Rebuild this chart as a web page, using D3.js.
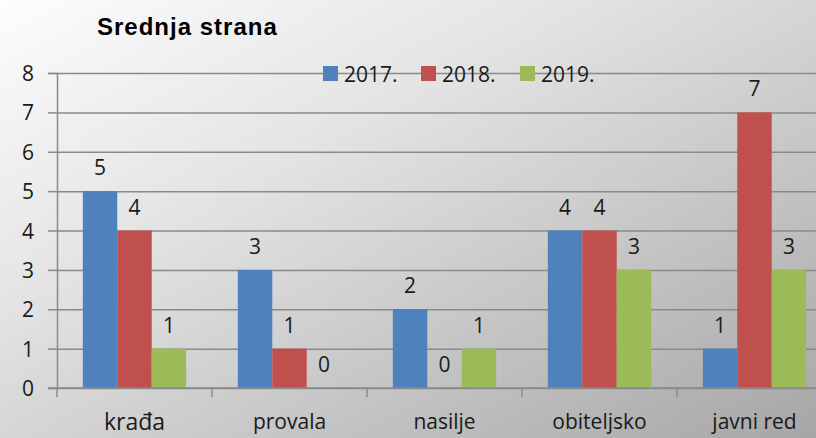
<!DOCTYPE html>
<html>
<head>
<meta charset="utf-8">
<script src="https://cdn.jsdelivr.net/npm/d3@7"></script>
<style>
  html, body { margin: 0; padding: 0; background: #fff; }
  svg { display: block; }
</style>
</head>
<body>
<svg id="chart" width="816" height="438"></svg>
<script>
// data
const categories = ["krađa", "provala", "nasilje", "obiteljsko", "javni red"];
const seriesNames = ["2017.", "2018.", "2019."];
const values2017 = [5, 3, 2, 4, 1];
const values2018 = [4, 1, 0, 4, 7];
const values2019 = [1, 0, 1, 3, 3];
const yTicks = [0, 1, 2, 3, 4, 5, 6, 7, 8];
const colors = ["#4f81bd", "#c0504d", "#9bbb59"];

const width = 816, height = 438;
const marginLeft = 57, marginTop = 73, plotBottom = 388;
const plotRight = 832; // chart is cropped on the right

const svg = d3.select("#chart");
const labelFont = "'Open Sans', 'Noto Sans', sans-serif";

// background gradient
const defs = svg.append("defs");
const grad = defs.append("linearGradient")
  .attr("id", "bg")
  .attr("x1", 0).attr("y1", 0).attr("x2", 1).attr("y2", 1);
grad.append("stop").attr("offset", "0%").attr("stop-color", "#fdfdfd");
grad.append("stop").attr("offset", "35%").attr("stop-color", "#e4e4e4");
grad.append("stop").attr("offset", "100%").attr("stop-color", "#a6a6a6");
svg.append("rect").attr("width", width).attr("height", height).attr("fill", "url(#bg)");

const series = [values2017, values2018, values2019];

const x0 = d3.scaleBand().domain(categories).range([marginLeft, plotRight]).paddingInner(0).paddingOuter(0);
const x1 = d3.scaleBand().domain(seriesNames).range([0, x0.bandwidth()]).paddingOuter(0.75).paddingInner(0);
const y = d3.scaleLinear().domain([0, 8]).range([plotBottom, marginTop]);

// y axis with gridlines
const yAxis = svg.append("g")
  .attr("transform", `translate(${marginLeft},0)`)
  .call(d3.axisLeft(y).tickValues(yTicks).tickSize(9).tickPadding(14).tickFormat(d3.format("d")));
yAxis.select(".domain").attr("stroke", "#8a8a8a").attr("stroke-width", 1.5);
yAxis.selectAll(".tick line").attr("stroke", "#8a8a8a").attr("stroke-width", 1.5);
yAxis.selectAll(".tick")
  .append("line")
  .attr("x1", 0).attr("x2", plotRight - marginLeft)
  .attr("stroke", "#8a8a8a").attr("stroke-width", 1.5);
yAxis.selectAll(".tick text")
  .attr("font-family", labelFont).attr("font-size", 21).attr("fill", "#1a1a1a")
  .attr("dy", "0.36em");
yAxis.select(".domain").raise();

// bars
const groups = svg.append("g").selectAll("g")
  .data(categories)
  .join("g")
  .attr("transform", (c) => `translate(${x0(c)},0)`);

groups.selectAll("rect")
  .data((c, i) => series.map((s, j) => ({ key: seriesNames[j], value: s[i], color: colors[j] })))
  .join("rect")
  .attr("x", (d) => x1(d.key))
  .attr("y", (d) => y(d.value))
  .attr("width", x1.bandwidth())
  .attr("height", (d) => y(0) - y(d.value))
  .attr("fill", (d) => d.color);

groups.selectAll("text")
  .data((c, i) => series.map((s, j) => ({ key: seriesNames[j], value: s[i] })))
  .join("text")
  .attr("x", (d) => x1(d.key) + x1.bandwidth() / 2)
  .attr("y", (d) => y(d.value) - 16)
  .attr("text-anchor", "middle")
  .attr("font-family", labelFont).attr("font-size", 21).attr("fill", "#1a1a1a")
  .text((d) => d.value);

// x axis
const xAxis = svg.append("g")
  .attr("transform", `translate(0,${plotBottom})`)
  .call(d3.axisBottom(x0).tickSize(0).tickPadding(26));
xAxis.select(".domain").remove();
xAxis.selectAll(".tick text")
  .attr("font-family", labelFont).attr("font-size", (d, i) => i === 0 ? 23 : 21)
  .attr("font-weight", (d, i) => i === 0 ? 500 : 400)
  .attr("fill", "#1a1a1a");
xAxis.append("line")
  .attr("x1", marginLeft - 9).attr("x2", plotRight)
  .attr("stroke", "#8a8a8a").attr("stroke-width", 1.5);
xAxis.selectAll(".sep")
  .data(categories)
  .join("line")
  .attr("class", "sep")
  .attr("x1", (c) => x0(c)).attr("x2", (c) => x0(c))
  .attr("y1", 0).attr("y2", 9)
  .attr("stroke", "#8a8a8a").attr("stroke-width", 1.5);

// title
svg.append("text")
  .attr("x", 97).attr("y", 35)
  .attr("font-family", "'Liberation Sans', Arial, sans-serif")
  .attr("font-size", 24).attr("font-weight", "bold")
  .attr("letter-spacing", 1).attr("fill", "#000")
  .text("Srednja strana");

// legend
const legendX = [323, 421, 520];
const legend = svg.append("g").selectAll("g")
  .data(seriesNames)
  .join("g")
  .attr("transform", (d, i) => `translate(${legendX[i]},66)`);
legend.append("rect").attr("width", 15).attr("height", 15).attr("fill", (d, i) => colors[i]);
legend.append("text")
  .attr("x", 21).attr("y", 16)
  .attr("font-family", labelFont).attr("font-size", 21).attr("fill", "#1a1a1a")
  .text((d) => d);
</script>
</body>
</html>
